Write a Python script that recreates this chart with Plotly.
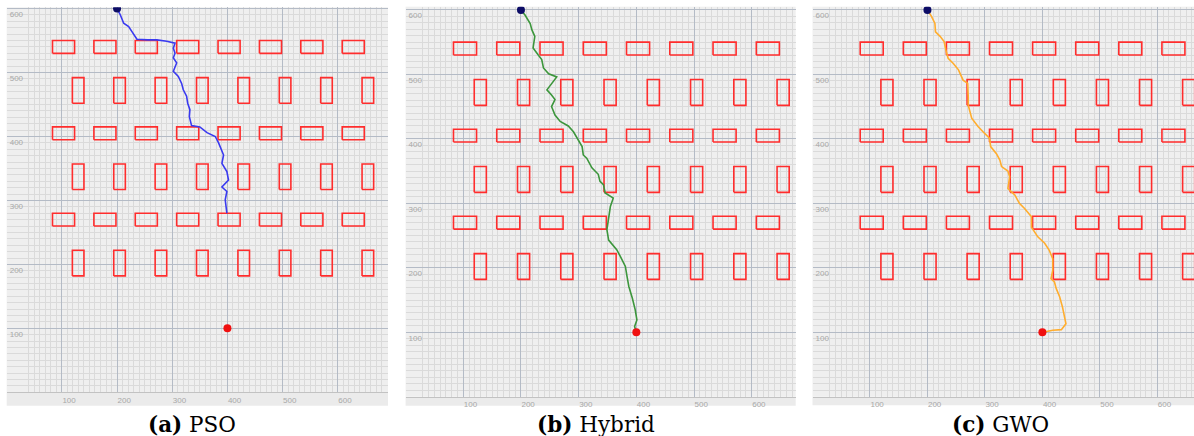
import plotly.graph_objects as go

W, H = 1194, 436

# ---------------- data ----------------
# obstacle rectangles (lower-left corners) in map units
h_obs_x0 = [83, 158, 233, 308, 383, 458, 533, 608]
h_obs_y0 = [530, 395, 260]
h_obs_w, h_obs_h = 40, 20
v_obs_x0 = [119, 194, 269, 344, 419, 494, 569, 644]
v_obs_y0 = [452, 317, 182]
v_obs_w, v_obs_h = 21, 40

start_pt = (200, 600)
goal_pt = (400, 100)

tick_vals = [100, 200, 300, 400, 500, 600]
tick_text = ["100", "200", "300", "400", "500", "600"]

pso_x = [200, 206, 212, 221, 227, 236, 255, 272, 290, 305, 302, 305, 302, 308, 302, 311, 317, 320,
         326, 328, 332, 331, 335, 350, 363, 378, 384, 393, 390, 399, 402, 390, 399, 396, 399]
pso_y = [600, 590, 577, 572, 564, 552, 551, 551, 549, 546, 538, 530, 523, 515, 502, 494, 483, 473,
         463, 452, 442, 431, 417, 415, 406, 400, 390, 371, 358, 345, 332, 321, 314, 301, 280]

hyb_x = [200, 207, 216, 219, 224, 221, 230, 236, 239, 248, 262, 253, 245, 253, 259, 253, 259, 268,
         282, 291, 297, 306, 308, 314, 323, 334, 337, 343, 346, 360, 355, 352, 349, 352, 366, 372,
         381, 384, 387, 393, 398, 401, 397, 400]
hyb_y = [600, 592, 579, 569, 559, 541, 530, 523, 510, 501, 496, 486, 476, 468, 461, 450, 437, 427,
         420, 411, 401, 388, 375, 370, 355, 345, 334, 329, 316, 308, 295, 274, 259, 243, 228, 218,
         202, 186, 171, 153, 135, 119, 109, 100]

gwo_x = [200, 207, 213, 214, 222, 229, 232, 236, 245, 254, 262, 270, 271, 271, 277, 288, 300, 308,
         310, 320, 326, 329, 340, 343, 340, 352, 360, 369, 381, 381, 392, 404, 412, 418, 418, 415,
         421, 424, 430, 435, 441, 433, 418, 401]
gwo_y = [600, 590, 579, 566, 559, 551, 538, 525, 517, 507, 491, 486, 465, 452, 432, 419, 408, 401,
         388, 377, 367, 357, 350, 341, 323, 313, 300, 292, 279, 263, 248, 238, 227, 214, 196, 183,
         178, 168, 155, 139, 113, 104, 103, 100]

panel_names = ["PSO", "Hybrid", "GWO"]
panel_tags = ["a", "b", "c"]
path_xs = [pso_x, hyb_x, gwo_x]
path_ys = [pso_y, hyb_y, gwo_y]

# ---------------- layout (pixels) ----------------
path_colors = ["#3a3af0", "#3c963c", "#ffad2e"]
x_px = [(6.7, 388.0), (405.6, 795.7), (812.5, 1194.0)]
y_px = [(7.3, 392.3), (6.7, 396.7), (6.7, 396.7)]
x_rng = [[0, 691], [0, 676.3], [0, 663.8]]
y_rng = [[0, 602], [0, 605], [0, 605]]
band_bottom = [405.7, 405.7, 405.2]
caption_cx = [191.7, 595.5, 1001.0]

# rectangles as polylines
rx, ry = [], []
for y0 in h_obs_y0:
    for x0 in h_obs_x0:
        rx += [x0, x0 + h_obs_w, x0 + h_obs_w, x0, x0, None]
        ry += [y0, y0, y0 + h_obs_h, y0 + h_obs_h, y0, None]
for y0 in v_obs_y0:
    for x0 in v_obs_x0:
        rx += [x0, x0 + v_obs_w, x0 + v_obs_w, x0, x0, None]
        ry += [y0, y0, y0 + v_obs_h, y0 + v_obs_h, y0, None]

fig = go.Figure()
layout_axes = {}
shapes = []
annotations = []

grid_major = "#b4bbc6"
grid_minor = "#dadada"
tfont = dict(family="Liberation Sans", size=8, color="#a8a8a8")
serif = "DejaVu Serif"

for i in range(3):
    n = "" if i == 0 else str(i + 1)
    xa, ya = "x" + n, "y" + n
    fig.add_trace(go.Scatter(x=rx, y=ry, mode="lines", line=dict(color="#ff2d2d", width=1.6),
                             xaxis=xa, yaxis=ya, hoverinfo="skip", showlegend=False))
    fig.add_trace(go.Scatter(x=path_xs[i], y=path_ys[i], mode="lines",
                             line=dict(color=path_colors[i], width=1.6),
                             xaxis=xa, yaxis=ya, showlegend=False))
    fig.add_trace(go.Scatter(x=[start_pt[0]], y=[start_pt[1]], mode="markers",
                             marker=dict(color="#0c0c66", size=8),
                             xaxis=xa, yaxis=ya, showlegend=False))
    fig.add_trace(go.Scatter(x=[goal_pt[0]], y=[goal_pt[1]], mode="markers",
                             marker=dict(color="#f01010", size=8),
                             xaxis=xa, yaxis=ya, showlegend=False))

    xd = [x_px[i][0] / W, x_px[i][1] / W]
    yd = [1 - y_px[i][1] / H, 1 - y_px[i][0] / H]
    common = dict(tickmode="array", tickvals=tick_vals, ticktext=tick_text,
                  showgrid=True, gridcolor=grid_major, gridwidth=1.3,
                  minor=dict(tickmode="linear", tick0=0, dtick=10, showgrid=True,
                             gridcolor=grid_minor, gridwidth=1, ticks=""),
                  zeroline=False, ticks="", tickfont=tfont, fixedrange=True)
    layout_axes["xaxis" + n] = dict(domain=xd, range=x_rng[i], anchor=ya,
                                    ticklabelposition="outside right",
                                    showline=True, linecolor="#c2c2c2", linewidth=1,
                                    **common)
    layout_axes["yaxis" + n] = dict(domain=yd, range=y_rng[i], anchor=xa,
                                    ticklabelposition="inside bottom",
                                    showline=False, **common)
    shapes.append(dict(type="rect", xref="paper", yref="paper",
                       x0=xd[0], x1=xd[1], y0=1 - band_bottom[i] / H, y1=yd[0],
                       fillcolor="#ebebeb", line=dict(width=0), layer="below"))
    annotations.append(dict(x=caption_cx[i] / W, y=0, xref="paper", yref="paper",
                            xanchor="center", yanchor="bottom", yshift=-2, showarrow=False,
                            borderpad=0,
                            text="<b>(" + panel_tags[i] + ")</b> " + panel_names[i],
                            font=dict(family=serif, size=21.5, color="#000000")))

fig.update_layout(width=W, height=H, margin=dict(l=0, r=0, t=0, b=0),
                  paper_bgcolor="#ffffff", plot_bgcolor="#efefef",
                  shapes=shapes, annotations=annotations, showlegend=False,
                  **layout_axes)

fig.write_html("out.html")
